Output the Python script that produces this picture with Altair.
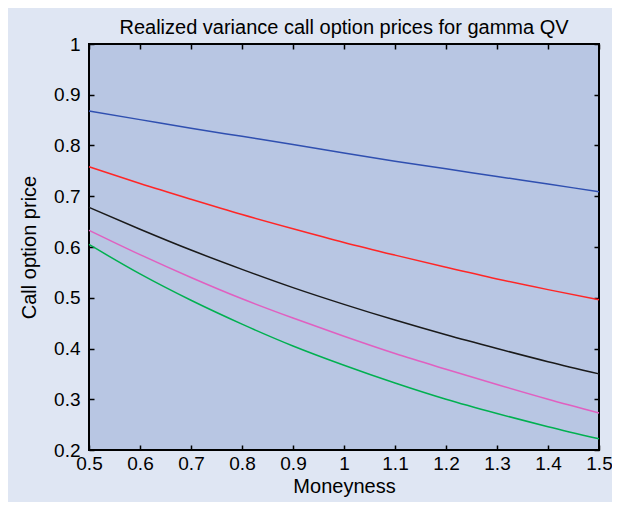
import altair as alt
import pandas as pd

# ---- data ----
moneyness = [0.5, 0.6, 0.7, 0.8, 0.9, 1.0, 1.1, 1.2, 1.3, 1.4, 1.5]
blue_vals = [0.868, 0.851, 0.834, 0.818, 0.802, 0.785, 0.769, 0.754, 0.739, 0.724, 0.709]
red_vals = [0.758, 0.725, 0.694, 0.664, 0.636, 0.609, 0.584, 0.560, 0.537, 0.516, 0.496]
black_vals = [0.678, 0.635, 0.594, 0.556, 0.520, 0.487, 0.456, 0.427, 0.400, 0.374, 0.350]
pink_vals = [0.633, 0.585, 0.540, 0.498, 0.460, 0.424, 0.390, 0.359, 0.329, 0.300, 0.273]
green_vals = [0.605, 0.547, 0.495, 0.448, 0.405, 0.367, 0.332, 0.300, 0.272, 0.246, 0.222]

series_names = ["Series 1", "Series 2", "Series 3", "Series 4", "Series 5"]
series_colors = ["#2f4fb0", "#ff2626", "#1a1a1a", "#e060c0", "#00b050"]

x_ticks = [0.5, 0.6, 0.7, 0.8, 0.9, 1.0, 1.1, 1.2, 1.3, 1.4, 1.5]
y_ticks = [0.2, 0.3, 0.4, 0.5, 0.6, 0.7, 0.8, 0.9, 1.0]

title_text = "Realized variance call option prices for gamma QV"
x_title = "Moneyness"
y_title = "Call option price"

rows = []
for name, vals in zip(series_names, [blue_vals, red_vals, black_vals, pink_vals, green_vals]):
    for m, v in zip(moneyness, vals):
        rows.append({"Moneyness": m, "Price": v, "Series": name})
df = pd.DataFrame(rows)

FONT = "Liberation Sans"
xscale = alt.Scale(domain=[0.5, 1.5], nice=False, zero=False)
yscale = alt.Scale(domain=[0.2, 1.0], nice=False, zero=False)

common_axis = dict(grid=False, domain=False, offset=-5, tickSize=5, tickColor="black",
                   tickWidth=1.5, labelFont=FONT, labelFontSize=19, labelColor="black",
                   titleFont=FONT, titleFontSize=20, titleFontWeight="normal", titleColor="black",
                   labelOverlap=False, labelFlush=False)

lines = alt.Chart(df).mark_line(strokeWidth=1.5, interpolate="monotone").encode(
    x=alt.X("Moneyness:Q", scale=xscale,
            axis=alt.Axis(orient="bottom", values=x_ticks, format="~g", labelPadding=4,
                          title=x_title, titlePadding=3, **common_axis)),
    y=alt.Y("Price:Q", scale=yscale,
            axis=alt.Axis(orient="left", values=y_ticks, format="~g", labelPadding=9,
                          title=y_title, titlePadding=14, **common_axis)),
    color=alt.Color("Series:N", scale=alt.Scale(domain=series_names, range=series_colors),
                    legend=None),
)

frame = alt.Chart(df).mark_line(opacity=0).encode(
    x=alt.X("Moneyness:Q", scale=xscale,
            axis=alt.Axis(orient="top", values=x_ticks, labels=False, title=None, **common_axis)),
    y=alt.Y("Price:Q", scale=yscale,
            axis=alt.Axis(orient="right", values=y_ticks, labels=False, title=None, **common_axis)),
    detail="Series:N",
)

chart = alt.layer(lines, frame).resolve_axis(
    x="independent", y="independent"
).properties(
    width=510,
    height=406,
    title=alt.TitleParams(text=title_text, font=FONT, fontSize=20, fontWeight="normal",
                          color="black", anchor="middle", offset=1, dy=4),
    background="#dfe6f3",
    padding={"left": 81, "top": 36, "right": 13, "bottom": 52},
    autosize=alt.AutoSizeParams(type="none"),
).configure_view(
    stroke="black", strokeWidth=2, fill="#b8c6e3"
)

chart.save("out.html", embed_options={"renderer": "svg", "actions": False})
